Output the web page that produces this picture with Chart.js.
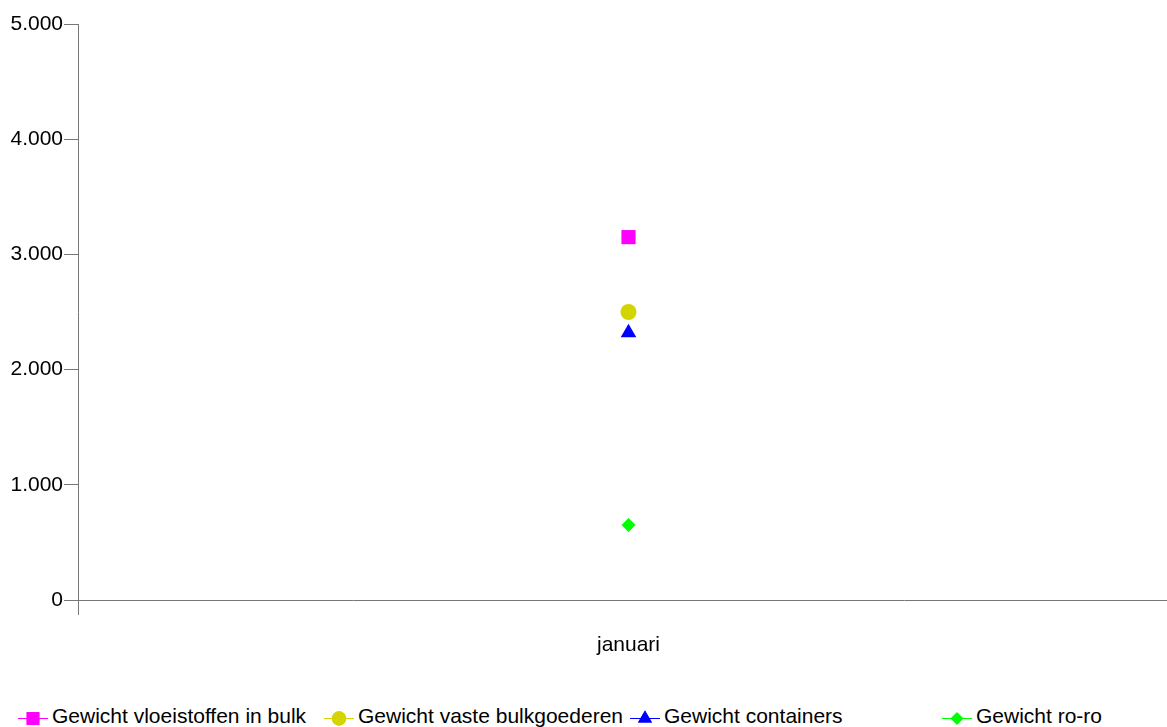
<!DOCTYPE html>
<html>
<head>
<meta charset="utf-8">
<script src="https://cdn.jsdelivr.net/npm/chart.js@4"></script>
<style>
  html, body { margin: 0; padding: 0; background: #fff; overflow: hidden; }
  #wrap { position: absolute; left: 0; top: 0; width: 1179px; height: 680px; }
  #legend { position: absolute; left: 0; top: 704px; width: 1167px; height: 24px;
            font-family: "Liberation Sans", Arial, sans-serif; font-size: 21px; color: #000; }
  .item { position: absolute; top: 0; white-space: nowrap; display: flex; align-items: center; }
  .item canvas { margin-right: 4px; }
</style>
</head>
<body>
<div id="wrap"><canvas id="chart"></canvas></div>
<div id="legend"></div>
<script>
// data
var categories = ['januari'];
var vloeistoffen = [3150];
var vasteBulk = [2500];
var containers = [2320];
var roro = [650];

var seriesNames = ['Gewicht vloeistoffen in bulk', 'Gewicht vaste bulkgoederen', 'Gewicht containers', 'Gewicht ro-ro'];
var seriesColors = ['#ff00ff', '#d4d400', '#0000ff', '#00ff00'];
var seriesStyles = ['rect', 'circle', 'triangle', 'rectRot'];
var seriesRadius = [10, 8, 9, 7];
var legendX = [18, 324, 630, 942];

var allValues = [vloeistoffen, vasteBulk, containers, roro];

function fmt(v) {
  return String(v).replace(/\B(?=(\d{3})+(?!\d))/g, '.');
}

var datasets = [];
for (var i = 0; i < allValues.length; i++) {
  datasets.push({
    label: seriesNames[i],
    data: allValues[i],
    showLine: false,
    borderColor: seriesColors[i],
    backgroundColor: seriesColors[i],
    pointStyle: seriesStyles[i],
    pointRadius: seriesRadius[i],
    pointBorderWidth: 0,
    pointHoverRadius: seriesRadius[i]
  });
}

var fontSpec = { family: '"Liberation Sans", Arial, sans-serif', size: 21 };

new Chart(document.getElementById('chart').getContext('2d'), {
  type: 'line',
  data: { labels: categories, datasets: datasets },
  options: {
    responsive: true,
    maintainAspectRatio: false,
    animation: false,
    layout: { autoPadding: false, padding: { top: 24, right: 0, bottom: 0, left: 0 } },
    plugins: { legend: { display: false }, tooltip: { enabled: false } },
    scales: {
      x: {
        type: 'category',
        offset: true,
        border: { color: '#777', width: 1 },
        grid: { display: true, drawOnChartArea: false, drawTicks: true, tickLength: 15, color: '#777', offset: true },
        ticks: { color: '#000', font: fontSpec, padding: 18 },
        afterFit: function(s) { s.height = 80; }
      },
      y: {
        min: 0,
        max: 5000,
        border: { color: '#777', width: 1 },
        grid: { display: true, drawOnChartArea: false, drawTicks: true, tickLength: 14, color: '#777' },
        ticks: { stepSize: 1000, color: '#000', font: fontSpec, padding: 1,
                 callback: function(v) { return fmt(v); } },
        afterFit: function(s) { s.width = 78; }
      }
    }
  }
});

// legend with line + marker icons
var legend = document.getElementById('legend');
for (var j = 0; j < seriesNames.length; j++) {
  var item = document.createElement('div');
  item.className = 'item';
  item.style.left = legendX[j] + 'px';
  var c = document.createElement('canvas');
  c.width = 30; c.height = 24;
  var ctx = c.getContext('2d');
  ctx.strokeStyle = seriesColors[j];
  ctx.lineWidth = 1;
  ctx.beginPath(); ctx.moveTo(0, 14.5); ctx.lineTo(30, 14.5); ctx.stroke();
  ctx.fillStyle = seriesColors[j];
  Chart.helpers.drawPoint(ctx, { pointStyle: seriesStyles[j], radius: seriesRadius[j] * 0.9, rotation: 0, borderWidth: 0 }, 15, 14.5);
  ctx.fill();
  item.appendChild(c);
  var t = document.createElement('span');
  t.textContent = seriesNames[j];
  item.appendChild(t);
  legend.appendChild(item);
}
</script>
</body>
</html>
